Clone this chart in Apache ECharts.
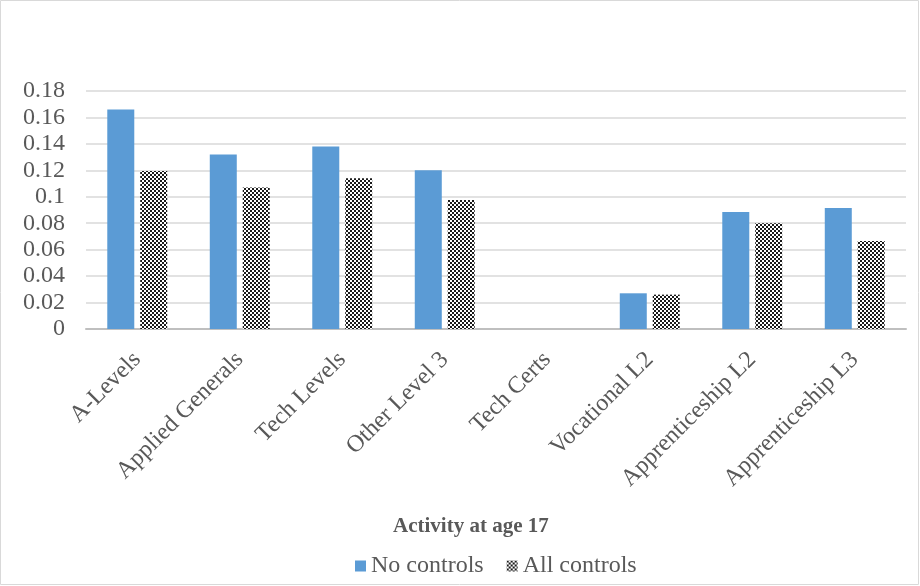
<!DOCTYPE html>
<html><head><meta charset="utf-8">
<script src="https://cdn.jsdelivr.net/npm/echarts@6/dist/echarts.min.js"></script>
<style>html,body{margin:0;padding:0;background:#fff}#c{width:920px;height:586px}</style>
</head><body><div id="c"></div>
<script>
const categories = ['A-Levels','Applied Generals','Tech Levels','Other Level 3','Tech Certs','Vocational L2','Apprenticeship L2','Apprenticeship L3'];
const noControls = [0.166, 0.132, 0.138, 0.120, 0, 0.027, 0.0885, 0.0915];
const allControls = [0.1195, 0.107, 0.114, 0.0975, 0, 0.026, 0.080, 0.0665];
const seriesNames = ['No controls','All controls'];
const xTitle = 'Activity at age 17';

function checker(){
  const c = document.createElement('canvas');
  c.width = 4; c.height = 4;
  const g = c.getContext('2d');
  g.fillStyle = '#ffffff'; g.fillRect(0,0,4,4);
  g.fillStyle = '#1a1a1a';
  g.fillRect(0,0,2,2); g.fillRect(2,2,2,2);
  return c;
}
const pat = {image: checker(), repeat: 'repeat'};
const font = 'Liberation Serif';
const chart = echarts.init(document.getElementById('c'), null, {renderer:'canvas'});
chart.setOption({
  animation: false,
  textStyle: {fontFamily: font},
  graphic: [{type:'rect', shape:{x:0.5,y:0.5,width:918,height:584}, style:{fill:'none', stroke:'#d9d9d9', lineWidth:1}, silent:true}],
  title: {text: xTitle, left: 388, top: 511, textStyle:{fontFamily:font, fontSize:21, fontWeight:'bold', color:'#595959'}},
  legend: {top: 549, left: 350, itemWidth: 11, itemHeight: 11, itemGap: 23, itemTextGap: 6, icon: 'rect',
    textStyle:{fontFamily:font, fontSize:24, color:'#595959'}, data: seriesNames},
  grid: {left: 86, right: 14, top: 91, bottom: 257},
  xAxis: {type:'category', data: categories,
    axisLine:{lineStyle:{color:'#bfbfbf', width:2}}, axisTick:{show:false},
    axisLabel:{rotate:45, interval:0, fontFamily:font, fontSize:24, color:'#595959', margin:27}},
  yAxis: {type:'value', min:0, max:0.18, interval:0.02,
    axisLine:{show:false}, axisTick:{show:false},
    splitLine:{lineStyle:{color:'#d9d9d9', width:1.5}},
    axisLabel:{fontFamily:font, fontSize:24, color:'#595959', margin:21,
      formatter: v => String(+v.toFixed(2))}},
  series: [
    {name: seriesNames[0], type:'bar', data: noControls, barWidth: 27, barGap:'22%', itemStyle:{color:'#5b9bd5'}},
    {name: seriesNames[1], type:'bar', data: allControls, barWidth: 27, itemStyle:{color: pat}}
  ]
});
</script></body></html>
